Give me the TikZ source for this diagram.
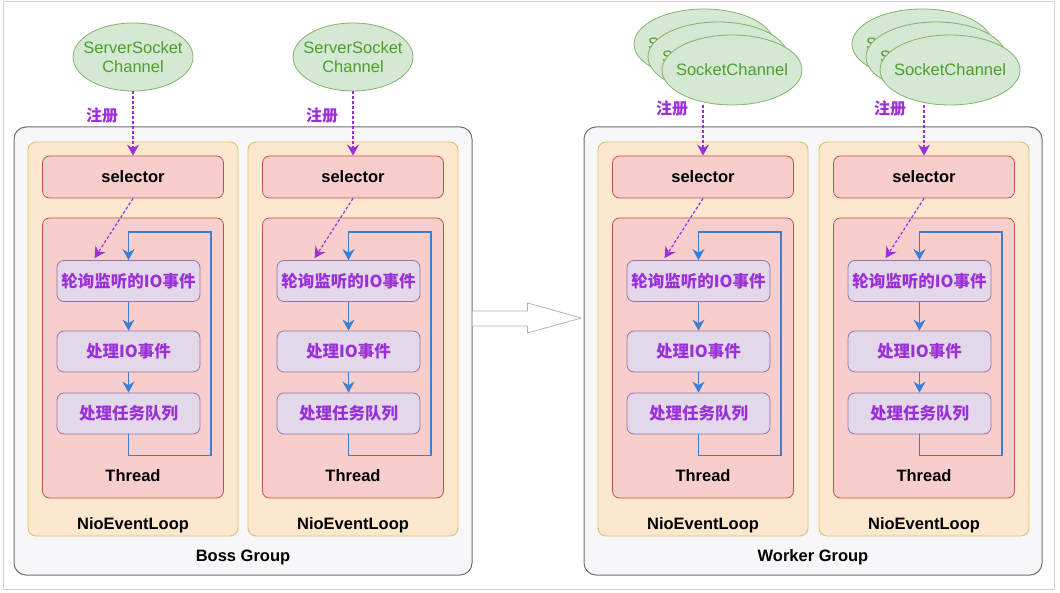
\documentclass[tikz,border=0pt]{standalone}
\usepackage{fontspec}
\setmainfont{Liberation Sans}
\newfontfamily\cjk{Noto Sans CJK SC}
\usepackage{xcolor}
\usetikzlibrary{arrows.meta,positioning,calc,shapes.geometric}

\definecolor{grpfill}{HTML}{F7F6F8}
\definecolor{grpdraw}{HTML}{707070}
\definecolor{loopfill}{HTML}{FDE7CE}
\definecolor{loopdraw}{HTML}{D9C36A}
\definecolor{redfill}{HTML}{F8CECC}
\definecolor{reddraw}{HTML}{B85450}
\definecolor{purfill}{HTML}{E3D7EA}
\definecolor{purdraw}{HTML}{9673A6}
\definecolor{purtext}{HTML}{9B30D9}
\definecolor{grnfill}{HTML}{D5E8D4}
\definecolor{grndraw}{HTML}{82B366}
\definecolor{grntext}{HTML}{4D9E2A}
\definecolor{loopblue}{HTML}{3A7FD5}

\begin{document}
\begin{tikzpicture}[
  x=1pt,y=-1pt,
  font=\fontsize{16.5}{19}\selectfont,
  group/.style={draw=grpdraw,fill=grpfill,rounded corners=12pt,line width=1pt,
    minimum width=458pt,minimum height=448pt,inner sep=0pt},
  loopbox/.style={draw=loopdraw,fill=loopfill,rounded corners=8pt,line width=0.9pt,
    minimum width=210pt,minimum height=394pt,inner sep=0pt},
  redbox/.style={draw=reddraw,fill=redfill,rounded corners=7pt,line width=0.8pt,
    minimum width=181pt,inner sep=0pt},
  evbox/.style={draw=purdraw,fill=purfill,rounded corners=7pt,line width=0.8pt,
    minimum width=143pt,minimum height=41pt,inner sep=0pt,text=purtext,
    font=\cjk\bfseries\fontsize{16.5}{19}\selectfont},
  chan/.style={ellipse,draw=grndraw,fill=grnfill,text=grntext,align=center,
    line width=0.8pt,inner xsep=-14pt,inner ysep=-6pt},
  title/.style={font=\bfseries\fontsize{16.5}{19}\selectfont},
  reglbl/.style={text=purtext,font=\cjk\bfseries\fontsize{16}{19}\selectfont},
  regarr/.style={-{Stealth[length=11pt,width=12pt]},purtext,line width=1.2pt,
    dash pattern=on 3pt off 2pt},
  bluearr/.style={-{Stealth[length=11pt,width=12pt]},loopblue,line width=1.3pt}
]
\useasboundingbox (0,0) rectangle (1060,593);
\draw[gray!35,line width=1pt] (3,2) rectangle (1054,589);

% groups
\node[group] (boss) at (243,351) {};
\node[group] (worker) at (813,351) {};
\node[title] (bosslbl) at (243,557) {Boss Group};
\node[title] (workerlbl) at (813,557) {Worker Group};

% event loops
\foreach \n/\x in {b1/133,b2/353,w1/703,w2/924}{
  \node[loopbox] (loop\n) at (\x,339) {};
  \node[redbox,minimum height=42pt] (sel\n) at (\x,177) {\bfseries selector};
  \node[redbox,minimum height=280pt] (thr\n) at (\x,358) {};
  \node[title] (thrlbl\n) at (\x,476) {Thread};
  \node[title] (looplbl\n) at (\x,525) {NioEventLoop};
  \node[evbox] (poll\n) at (\x-4.5,281) {轮询监听的IO事件};
  \node[evbox] (proc\n) at (\x-4.5,351.5) {处理IO事件};
  \node[evbox] (task\n) at (\x-4.5,413.5) {处理任务队列};
  \draw[bluearr] (poll\n) -- (proc\n);
  \draw[bluearr] (proc\n) -- (task\n);
  \draw[bluearr] (task\n.south) |- ($(thr\n.south east)+(-13,-43)$)
    |- ($(poll\n.north)+(0,-28)$) -- (poll\n.north);
  \draw[regarr] (sel\n.south) -- ($(poll\n.north west)+(38,-2)$);
}

% channels
\node[chan,minimum width=120pt,minimum height=68pt] (sscb1) at (133,57) {ServerSocket\\Channel};
\node[chan,minimum width=120pt,minimum height=68pt] (sscb2) at (353,57) {ServerSocket\\Channel};
\foreach \n/\x in {w1/704,w2/922}{
  \node[chan,minimum width=140pt,minimum height=70pt] (sc\n c) at (\x,44) {SocketChannel};
  \node[chan,minimum width=140pt,minimum height=70pt] (sc\n b) at (\x+14,57) {SocketChannel};
  \node[chan,minimum width=140pt,minimum height=70pt] (sc\n a) at (\x+28,70) {SocketChannel};
}

% registration
\draw[regarr] (sscb1.south) -- (selb1.north);
\draw[regarr] (sscb2.south) -- (selb2.north);
\draw[regarr] (selw1.north |- scw1a.south) -- (selw1.north);
\draw[regarr] (selw2.north |- scw2a.south) -- (selw2.north);
\node[reglbl] (regb1) at (102,115) {注册};
\node[reglbl] (regb2) at (322,115) {注册};
\node[reglbl] (regw1) at (672,108) {注册};
\node[reglbl] (regw2) at (890,108) {注册};

% hand-over arrow
\coordinate (tip) at ($(worker.west)+(-2,-33)$);
\draw[gray!60,fill=white,line width=0.8pt,line join=round]
  ($(boss.east)+(0,-40)$) -- ++(55,0) -- ++(0,-8) -- (tip)
  -- ($(boss.east)+(55,-18)$) -- ++(0,-7) -- ($(boss.east)+(0,-25)$);
\end{tikzpicture}
\end{document}
